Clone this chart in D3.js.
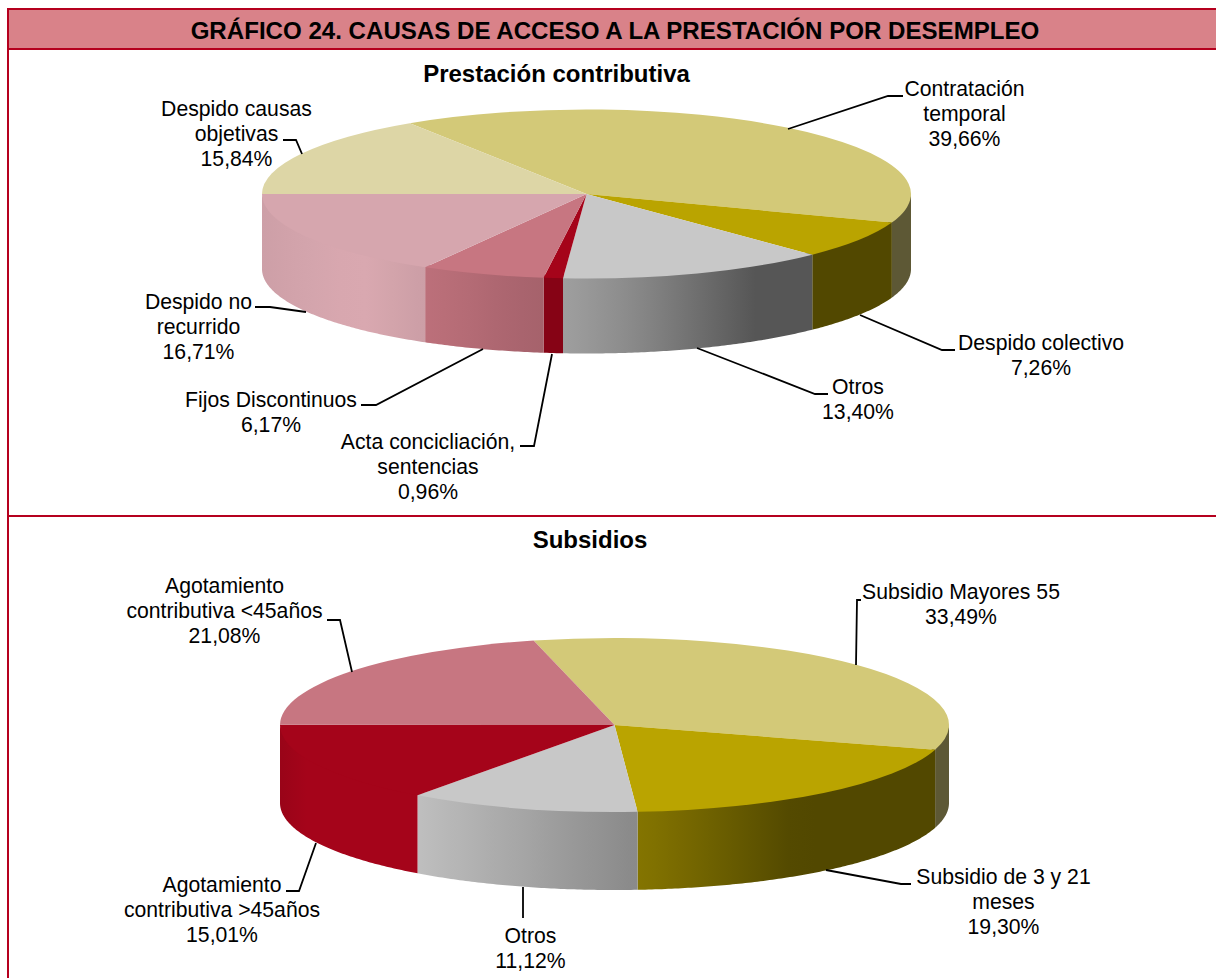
<!DOCTYPE html>
<html><head><meta charset="utf-8">
<script src="https://cdnjs.cloudflare.com/ajax/libs/d3/7.8.5/d3.min.js"></script>
<style>html,body{margin:0;padding:0;background:#fff;overflow:hidden}svg{display:block}text{font-family:"Liberation Sans",Arial,sans-serif;fill:#000}</style>
</head><body><div id="chart"></div>
<script>
const chartTitle = "GRÁFICO 24. CAUSAS DE ACCESO A LA PRESTACIÓN POR DESEMPLEO";
const contribTitle = "Prestación contributiva";
const contribCategories = [["Contratación","temporal"],["Despido colectivo"],["Otros"],["Acta concicliación,","sentencias"],["Fijos Discontinuos"],["Despido no","recurrido"],["Despido causas","objetivas"]];
const contribValues = [39.66,7.26,13.40,0.96,6.17,16.71,15.84];
const contribColors = ["#D3C978","#BAA400","#C8C8C8","#A5041A","#C77681","#D6A6AE","#DDD6A6"];
const subsTitle = "Subsidios";
const subsCategories = [["Subsidio Mayores 55"],["Subsidio de 3 y 21","meses"],["Otros"],["Agotamiento","contributiva >45años"],["Agotamiento","contributiva <45años"]];
const subsValues = [33.49,19.30,11.12,15.01,21.08];
const subsColors = ["#D3C978","#BAA400","#C8C8C8","#A5041A","#C77681"];
const fmt = v => v.toFixed(2).replace(".",",")+"%";

const W=1216,H=978,RED="#B5001E";
const svg=d3.select("#chart").append("svg").attr("width",W).attr("height",H);
const defs=svg.append("defs");

// frame
svg.append("rect").attr("x",8).attr("y",9).attr("width",W-8).attr("height",40).attr("fill","#D98289");
const frame=[[7,9,W,9],[7,49,W,49],[8,516,W,516],[8,8,8,H]];
svg.selectAll("line.frame").data(frame).join("line").attr("class","frame")
  .attr("x1",d=>d[0]).attr("y1",d=>d[1]).attr("x2",d=>d[2]).attr("y2",d=>d[3])
  .attr("stroke",RED).attr("stroke-width",2);
svg.append("text").attr("x",615).attr("y",39).attr("text-anchor","middle")
  .attr("font-size",24.1).attr("font-weight","bold").text(chartTitle);

const FS=21.2,LH=25;
function pie3d(o){
  const g=svg.append("g");
  const angle=d3.pie().sort(null).value(d=>d).startAngle(o.start*Math.PI/180).endAngle((o.start+360)*Math.PI/180);
  const arcs=angle(o.values);
  const arc=d3.arc().innerRadius(0).outerRadius(o.rx);
  const px=a=>o.cx+o.rx*Math.sin(a), py=a=>o.cy-o.ry*Math.cos(a);
  const wall=d3.area().x(px).y0(a=>py(a)-3).y1(a=>py(a)+o.depth);
  arcs.forEach((d,i)=>{
    const lo=Math.PI/2, hi=Math.PI*1.5;
    const s=Math.max(d.startAngle,lo), e=Math.min(d.endAngle,hi);
    if(e<=s) return;
    const id=o.id+"-g"+i;
    const lg=defs.append("linearGradient").attr("id",id).attr("gradientUnits","userSpaceOnUse")
      .attr("x1",o.cx-o.rx).attr("x2",o.cx+o.rx).attr("y1",0).attr("y2",0);
    const fn=o.shade[i];
    d3.range(0,1.0001,0.04).forEach(t=>{
      const c=d3.rgb(o.colors[i]);
      const f=fn(t);
      lg.append("stop").attr("offset",t).attr("stop-color",d3.rgb(c.r*f,c.g*f,c.b*f).formatHex());
    });
    g.append("path").attr("d",wall(d3.range(s,e,0.01).concat([e]))).attr("fill",`url(#${id})`);
  });
  g.selectAll("path.top").data(arcs).join("path").attr("class","top")
    .attr("transform",`translate(${o.cx},${o.cy}) scale(1,${o.ry/o.rx})`)
    .attr("d",arc).attr("fill",(d,i)=>o.colors[i]);
  g.selectAll("path.lead").data(o.leaders).join("path").attr("class","lead")
    .attr("d",d=>d3.line()(d)).attr("fill","none").attr("stroke","#000").attr("stroke-width",1.8);
  o.labels.forEach((l,i)=>{
    const lines=o.cats[i].concat([fmt(o.values[i])]);
    const t=g.append("text").attr("text-anchor","middle").attr("font-size",FS);
    lines.forEach((s,k)=>t.append("tspan").attr("x",l[0]).attr("y",l[1]+k*LH).text(s));
  });
}
const flat=f=>()=>f;
const s1=[
  flat(0.44),
  flat(0.44),
  d3.scaleLinear().domain([0.46,0.58,0.76,1]).range([0.80,0.68,0.43,0.43]).clamp(true),
  flat(0.81),
  d3.scaleLinear().domain([0.25,0.43]).range([0.95,0.83]).clamp(true),
  d3.scaleLinear().domain([0,0.1,0.15,0.25]).range([0.96,1,1.02,0.95]).clamp(true),
  flat(1)];
const s2=[
  flat(0.44),
  d3.scaleLinear().domain([0.535,0.77,1]).range([0.72,0.44,0.44]).clamp(true),
  d3.scaleLinear().domain([0.2,0.54]).range([0.96,0.68]).clamp(true),
  d3.scaleLinear().domain([0,0.04]).range([0.93,1]).clamp(true),
  flat(1)];
pie3d({id:"a",values:contribValues,colors:contribColors,cats:contribCategories,start:-33,
  cx:586.5,cy:194,rx:324.5,ry:84.5,depth:75,shade:s1,
  leaders:[[[788,129],[888,96],[903,96]],[[860,315],[942,350],[955,350]],[[697,348],[815,394],[828,394]],
    [[552,354],[534,446],[520,446]],[[483,349],[376,405],[361,405]],[[306,312],[270,307],[255,307]],[[302,154],[296,140],[283,140]]],
  labels:[[964.5,96],[1041,350],[858,394],[428,449],[271,407],[198.5,309],[236.5,116]]});
pie3d({id:"b",values:subsValues,colors:subsColors,cats:subsCategories,start:-14,
  cx:614.5,cy:725,rx:334.5,ry:87,depth:78,shade:s2,
  leaders:[[[856,665],[857,600],[861,600]],[[826,870],[901,884],[911,884]],[[523,887],[523,918]],[[316,843],[299,891],[286,891]],[[352,672],[340,620],[327,620]]],
  labels:[[961,599],[1003.5,884],[530.5,943],[222,892],[224.5,593]]});
svg.append("text").attr("x",556.5).attr("y",82).attr("text-anchor","middle").attr("font-size",24).attr("font-weight","bold").text(contribTitle);
svg.append("text").attr("x",590).attr("y",548).attr("text-anchor","middle").attr("font-size",24).attr("font-weight","bold").text(subsTitle);
</script></body></html>
